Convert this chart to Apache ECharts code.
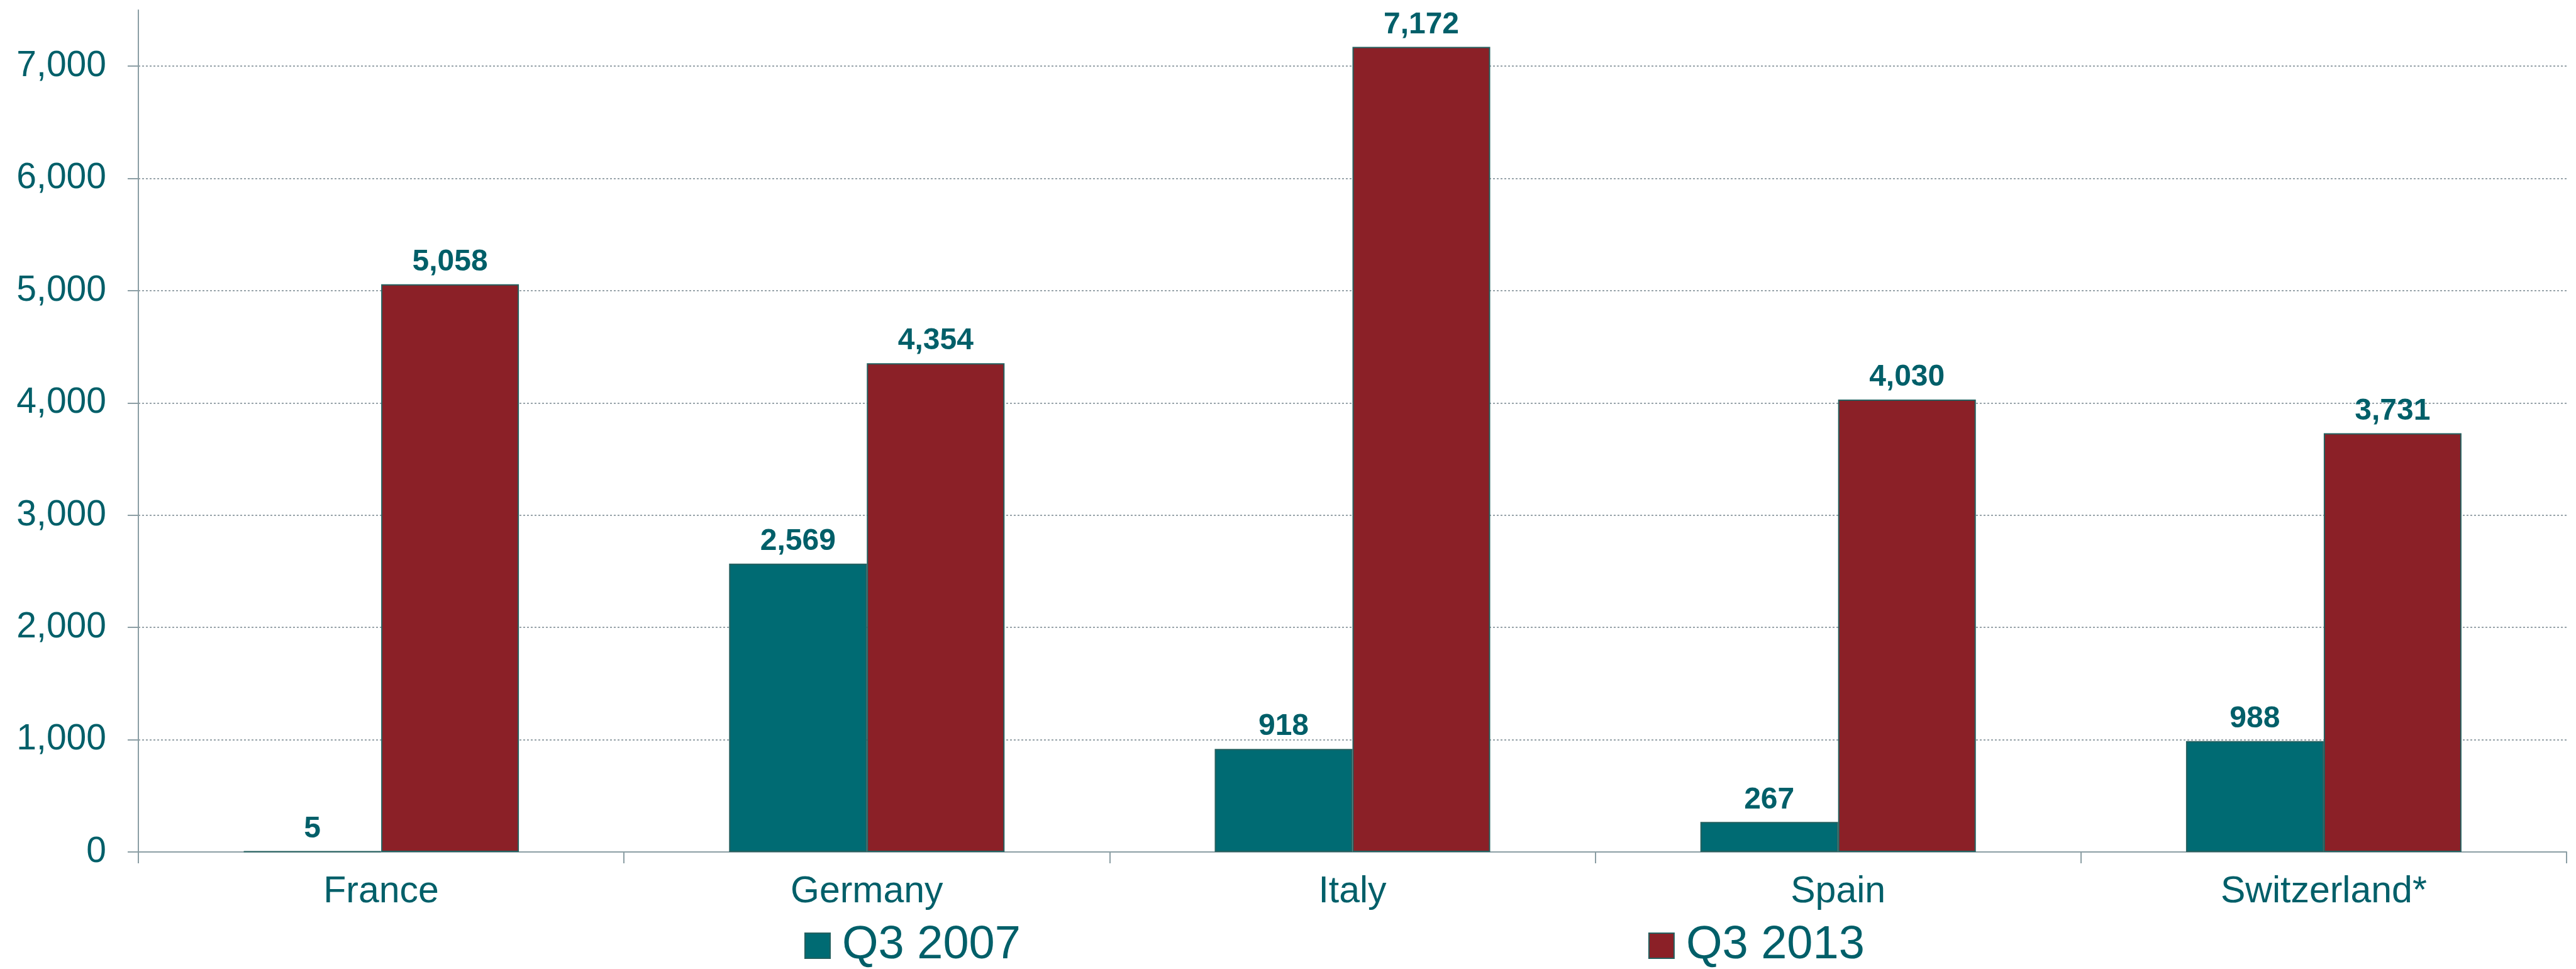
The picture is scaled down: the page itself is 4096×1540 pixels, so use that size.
<!DOCTYPE html>
<html>
<head>
<meta charset="utf-8">
<script src="https://cdn.jsdelivr.net/npm/echarts@6/dist/echarts.min.js"></script>
<style>
    html, body {margin: 0; padding: 0; background: #ffffff;}
    #main {width: 4096px; height: 1540px;}
</style>
</head>
<body>
<div id="main"></div>
<script>
// data
var aCountries = ['France', 'Germany', 'Italy', 'Spain', 'Switzerland*'];
var aQ3_2007 = [5, 2569, 918, 267, 988];
var aQ3_2013 = [5058, 4354, 7172, 4030, 3731];
var aSeriesNames = ['Q3 2007', 'Q3 2013'];

var sFont = 'Liberation Sans, Arial, sans-serif';
var sText = '#005f69';
var sAxis = '#8b9ea4';

function FormatNum(v) {
    return String(v).replace(/\B(?=(\d{3})+(?!\d))/g, ',');
}

function BarSeries(sName, aData, sColor) {
    return {
        name: sName,
        type: 'bar',
        data: aData,
        barWidth: 219,
        barGap: '0%',
        itemStyle: {
            color: sColor,
            borderColor: '#24605f',
            borderWidth: 2
        },
        label: {
            show: true,
            position: 'top',
            distance: 11,
            color: sText,
            fontFamily: sFont,
            fontWeight: 'bold',
            fontSize: 48,
            formatter: function (p) {
                return FormatNum(p.value);
            }
        }
    };
}

var jOption = {
    animation: false,
    backgroundColor: '#ffffff',
    grid: {left: 220, right: 15, top: 16, bottom: 186, containLabel: false},
    legend: {
        data: aSeriesNames,
        left: 1279,
        top: 1466,
        padding: 0,
        itemGap: 998,
        itemWidth: 40,
        itemHeight: 40,
        icon: 'rect',
        textStyle: {
            color: sText,
            fontFamily: sFont,
            fontSize: 74,
            padding: [0, 0, 0, 14]
        }
    },
    xAxis: {
        type: 'category',
        data: aCountries,
        axisLine: {lineStyle: {color: sAxis, width: 2}},
        axisTick: {show: true, length: 18, lineStyle: {color: sAxis, width: 2}},
        axisLabel: {
            color: sText,
            fontFamily: sFont,
            fontSize: 59,
            margin: 34
        }
    },
    yAxis: {
        type: 'value',
        min: 0,
        max: 7500,
        interval: 1000,
        axisLine: {show: true, lineStyle: {color: sAxis, width: 2}},
        axisTick: {show: true, length: 17, lineStyle: {color: sAxis, width: 2}},
        axisLabel: {
            color: sText,
            fontFamily: sFont,
            fontSize: 57,
            margin: 51,
            showMaxLabel: false,
            formatter: function (v) {
                return FormatNum(v);
            }
        },
        splitLine: {
            show: true,
            showMinLine: false,
            showMaxLine: false,
            lineStyle: {color: '#97a3a9', width: 2, type: [3, 3]}
        }
    },
    series: [
        BarSeries(aSeriesNames[0], aQ3_2007, '#006b73'),
        BarSeries(aSeriesNames[1], aQ3_2013, '#8b2027')
    ]
};

var oChart = echarts.init(document.getElementById('main'));
oChart.setOption(jOption);
</script>
</body>
</html>
